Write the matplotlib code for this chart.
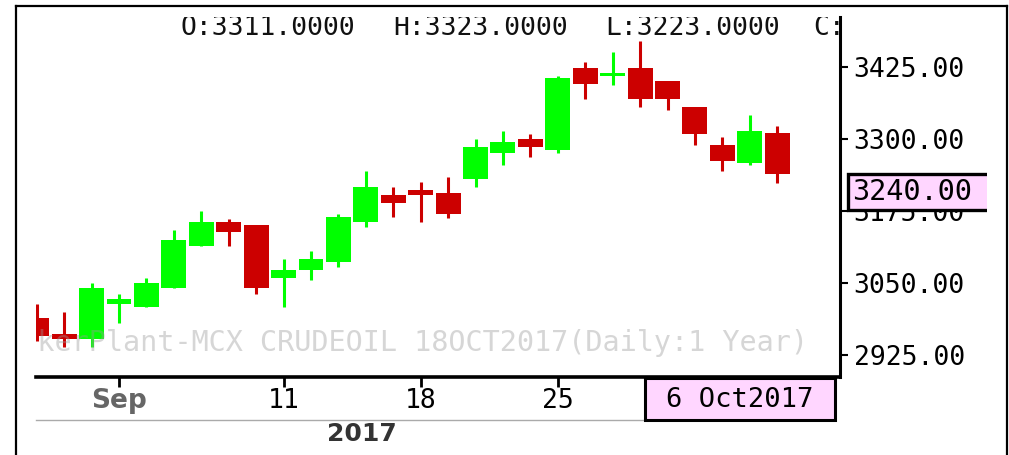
import matplotlib
matplotlib.use("Agg")
import matplotlib.pyplot as plt
from matplotlib.patches import Rectangle
from matplotlib.lines import Line2D
from matplotlib.transforms import Bbox

W, H = 1009, 455

# daily candles, 29 Aug .. 6 Oct 2017
opens = [2990, 2962, 2953, 3014, 3009, 3042, 3115, 3156, 3151, 3059, 3073, 3087, 3156, 3203,
         3212, 3206, 3231, 3276, 3300, 3281, 3423, 3410, 3423, 3401, 3356, 3290, 3259, 3311]
highs = [3013, 3000, 3050, 3031, 3059, 3142, 3175, 3161, 3151, 3092, 3106, 3170, 3244, 3217,
         3225, 3234, 3300, 3314, 3309, 3409, 3434, 3451, 3470, 3401, 3356, 3304, 3342, 3323]
lows = [2950, 2939, 2939, 2981, 3008, 3041, 3114, 3115, 3031, 3009, 3056, 3078, 3148, 3165,
        3156, 3162, 3217, 3254, 3268, 3276, 3370, 3393, 3356, 3351, 3290, 3245, 3254, 3223]
closes = [2958, 2953, 3041, 3022, 3050, 3125, 3156, 3139, 3042, 3073, 3092, 3165, 3217, 3189,
          3203, 3170, 3286, 3295, 3286, 3406, 3396, 3415, 3370, 3370, 3309, 3262, 3314, 3240]

xtick_pos = [3, 9, 14, 19]
xtick_labels = ["Sep", "11", "18", "25"]
ytick_vals = [2925, 3050, 3175, 3300, 3425]
last_date = "6 Oct2017"
year_label = "2017"
watermark = "TickerPlant-MCX CRUDEOIL 18OCT2017(Daily:1 Year)"

UP = "#00ff00"
DOWN = "#cc0000"
PINK = "#ffd6ff"
MONO = "DejaVu Sans Mono"

plt.rcParams["font.family"] = MONO


def fx(x):
    return x / W


def fy(y):
    return 1 - y / H


fig = plt.figure(figsize=(W / 100, H / 100), dpi=100)
ax = fig.add_axes([fx(36), fy(377), fx(840) - fx(36), fy(17) - fy(377)])

xs = list(range(len(opens)))
cols = [UP if c >= o else DOWN for o, c in zip(opens, closes)]
bottoms = [min(o, c) for o, c in zip(opens, closes)]
heights = [max(abs(c - o), 4) for o, c in zip(opens, closes)]

ax.vlines(xs, lows, highs, colors=cols, linewidth=2.2, zorder=2)
ax.bar(xs, heights, bottom=bottoms, width=0.91, color=cols, zorder=3)

ax.set_xlim(-0.027, 29.29)
ax.set_ylim(2886.8, 3511.8)

for s in ["left", "top"]:
    ax.spines[s].set_visible(False)
ax.spines["bottom"].set_linewidth(2.6)
ax.spines["right"].set_linewidth(2.2)

ax.yaxis.tick_right()
ax.set_yticks(ytick_vals, [f"{v:.2f}" for v in ytick_vals])
ax.tick_params(axis="y", length=5.8, width=1.5, pad=4, labelsize=19, colors="black")

ax.set_xticks(xtick_pos, xtick_labels)
ax.tick_params(axis="x", length=7, width=2, pad=1, labelsize=19)
lab0 = ax.get_xticklabels()[0]
lab0.set_fontfamily("DejaVu Sans")
lab0.set_fontweight("bold")
lab0.set_color("#666666")

# watermark over the candles
ax.text((808 - 36) / 804, (377 - 343) / 360, watermark, transform=ax.transAxes,
        ha="right", va="center", fontsize=20.5, color="#9a9a9a", alpha=0.4,
        clip_on=True, zorder=5)

# O H L C header
o, h, l, c = opens[-1], highs[-1], lows[-1], closes[-1]
hdr = [("O", o, 180), ("H", h, 393), ("L", l, 605), ("C", c, 813)]
for k, v, xp in hdr:
    ax.text((xp - 36) / 804, (377 - 28) / 360, f"{k}:{v:.4f}", transform=ax.transAxes,
            ha="left", va="center", fontsize=19, color="#111111", clip_on=True)

# outer frame
for x0, y0, x1, y1 in [(16, 6, 16, 455), (16, 6, 1007, 6), (1007, 6, 1007, 455)]:
    fig.add_artist(Line2D([fx(x0), fx(x1)], [fy(y0), fy(y1)], color="black", linewidth=1.6))

# second date row
fig.add_artist(Line2D([fx(36), fx(645)], [fy(420), fy(420)], color="#aaaaaa", linewidth=1))
fig.text(fx(362), fy(434), year_label, ha="center", va="center", fontsize=18,
         fontfamily="DejaVu Sans", fontweight="bold", color="#333333")

# cursor date box
fig.add_artist(Rectangle((fx(645), fy(420)), fx(835) - fx(645), fy(378) - fy(420),
                         transform=fig.transFigure, facecolor=PINK, edgecolor="black",
                         linewidth=2.2, zorder=4))
fig.text(fx(740), fy(400), last_date, ha="center", va="center", fontsize=19.5,
         color="black", zorder=5)

# last price box, cut at the right
clip = Bbox([[846, H - 213], [987, H - 171]])
box = Rectangle((fx(848), fy(210)), fx(1000) - fx(848), fy(174) - fy(210),
                transform=fig.transFigure, facecolor=PINK, edgecolor="black",
                linewidth=2.4, zorder=4)
fig.add_artist(box)
box.set_clip_box(clip)
t = fig.text(fx(852), fy(192), f"{c:.2f}", ha="left", va="center", fontsize=20.5,
             color="black", zorder=5)
t.set_clip_box(clip)

fig.savefig("out.png", dpi=100, facecolor="white")
